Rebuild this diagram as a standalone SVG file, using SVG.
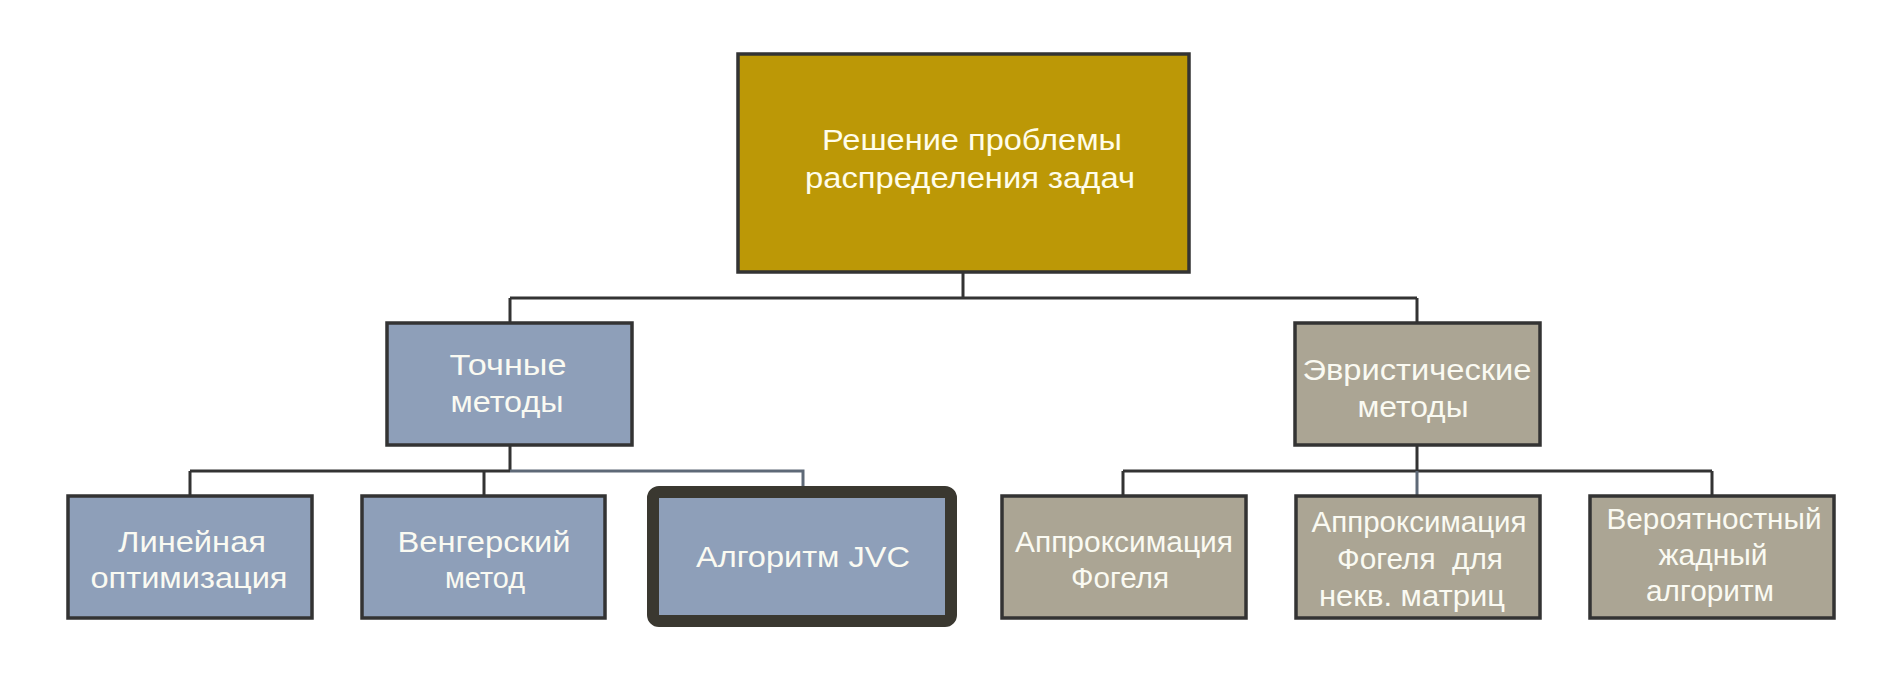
<svg xmlns="http://www.w3.org/2000/svg" width="1901" height="675" viewBox="0 0 1901 675">
<style>
.box{stroke:#333;stroke-width:3.5}
.blue{fill:#8E9FB9}
.tan{fill:#ABA594}
.root{fill:#BC9806}
.t{font-family:"Liberation Sans",Arial,sans-serif;font-size:30px;fill:#FAFAF2;text-anchor:middle}
.c{fill:none;stroke:#333;stroke-width:3}
.cb{fill:none;stroke:#5E6977;stroke-width:3}
</style>
<rect width="1901" height="675" fill="#fff"/>
<g id="connectors">
<path class="c" d="M963 273V298M510 298H1417M510 298V323M1417 298V323"/>
<path class="c" d="M510 444V471M190 471H510M190 471V496M484 471V496"/>
<path class="cb" d="M510 471H803V487"/>
<path class="c" d="M1417 444V471M1123 471H1712M1123 471V496M1712 471V496"/>
<path class="cb" d="M1417 471V496"/>
</g>
<g id="root">
<rect class="box root" x="738" y="54" width="451" height="218"/>
<text class="t" style="fill:#FFFDEA" x="972" y="150" textLength="300" lengthAdjust="spacingAndGlyphs">Решение проблемы</text>
<text class="t" style="fill:#FFFDEA" x="970" y="188" textLength="330" lengthAdjust="spacingAndGlyphs">распределения задач</text>
</g>
<g id="exact">
<rect class="box blue" x="387" y="323" width="245" height="122"/>
<text class="t" x="508" y="375" textLength="117" lengthAdjust="spacingAndGlyphs">Точные</text>
<text class="t" x="507" y="412" textLength="113" lengthAdjust="spacingAndGlyphs">методы</text>
</g>
<g id="heuristic">
<rect class="box tan" x="1295" y="323" width="245" height="122"/>
<text class="t" x="1417" y="380" textLength="229" lengthAdjust="spacingAndGlyphs">Эвристические</text>
<text class="t" x="1413" y="417" textLength="111" lengthAdjust="spacingAndGlyphs">методы</text>
</g>
<g id="linear">
<rect class="box blue" x="68" y="496" width="244" height="122"/>
<text class="t" x="192" y="552" textLength="148" lengthAdjust="spacingAndGlyphs">Линейная</text>
<text class="t" x="189" y="588" textLength="197" lengthAdjust="spacingAndGlyphs">оптимизация</text>
</g>
<g id="hungarian">
<rect class="box blue" x="362" y="496" width="243" height="122"/>
<text class="t" x="484" y="552" textLength="173" lengthAdjust="spacingAndGlyphs">Венгерский</text>
<text class="t" x="485" y="588" textLength="80" lengthAdjust="spacingAndGlyphs">метод</text>
</g>
<g id="jvc">
<rect x="653" y="492" width="298" height="129" rx="6" fill="#8E9FB9" stroke="#3A3830" stroke-width="12"/>
<text class="t" x="803" y="567" textLength="214" lengthAdjust="spacingAndGlyphs">Алгоритм JVC</text>
</g>
<g id="vogel">
<rect class="box tan" x="1002" y="496" width="244" height="122"/>
<text class="t" x="1124" y="552" textLength="218" lengthAdjust="spacingAndGlyphs">Аппроксимация</text>
<text class="t" x="1120" y="588" textLength="98" lengthAdjust="spacingAndGlyphs">Фогеля</text>
</g>
<g id="vogel-nonsq">
<rect class="box tan" x="1296" y="496" width="244" height="122"/>
<text class="t" x="1419" y="532" textLength="215" lengthAdjust="spacingAndGlyphs">Аппроксимация</text>
<text class="t" x="1420" y="569" xml:space="preserve" textLength="166" lengthAdjust="spacingAndGlyphs">Фогеля  для</text>
<text class="t" x="1412" y="606" textLength="186" lengthAdjust="spacingAndGlyphs">некв. матриц</text>
</g>
<g id="greedy">
<rect class="box tan" x="1590" y="496" width="244" height="122"/>
<text class="t" x="1714" y="529" textLength="215" lengthAdjust="spacingAndGlyphs">Вероятностный</text>
<text class="t" x="1713" y="565" textLength="109" lengthAdjust="spacingAndGlyphs">жадный</text>
<text class="t" x="1710" y="601" textLength="128" lengthAdjust="spacingAndGlyphs">алгоритм</text>
</g>
</svg>
